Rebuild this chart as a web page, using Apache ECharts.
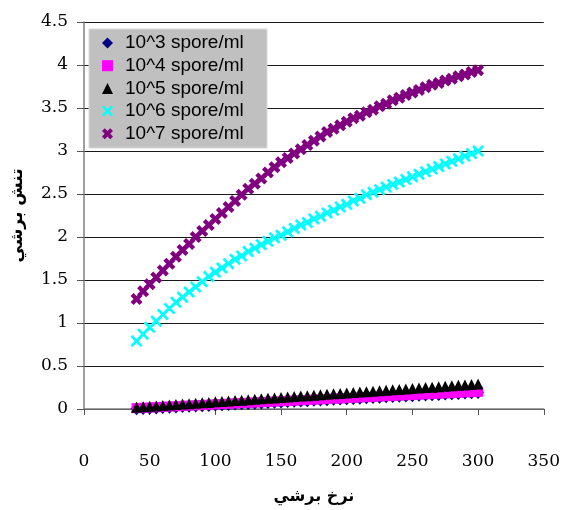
<!DOCTYPE html>
<html>
<head>
<meta charset="utf-8">
<script src="https://cdn.jsdelivr.net/npm/echarts@6/dist/echarts.min.js"></script>
<style>html,body{margin:0;padding:0;background:#fff}#c{width:563px;height:510px}</style>
</head>
<body>
<div id="c"></div>
<script>
var shearRate = [40,45,50,55,60,65,70,75,80,85,90,95,100,105,110,115,120,125,130,135,140,145,150,155,160,165,170,175,180,185,190,195,200,205,210,215,220,225,230,235,240,245,250,255,260,265,270,275,280,285,290,295,300];
var s1e3 = [0.002,0.006,0.009,0.013,0.017,0.020,0.024,0.028,0.031,0.035,0.039,0.042,0.046,0.050,0.053,0.057,0.060,0.064,0.068,0.071,0.075,0.079,0.082,0.086,0.090,0.093,0.097,0.101,0.104,0.108,0.112,0.115,0.119,0.122,0.126,0.130,0.133,0.137,0.141,0.144,0.148,0.152,0.155,0.159,0.163,0.166,0.170,0.174,0.177,0.181,0.185,0.188,0.192];
var s1e4 = [0.010,0.014,0.017,0.021,0.025,0.028,0.032,0.036,0.039,0.043,0.047,0.050,0.054,0.058,0.061,0.065,0.068,0.072,0.076,0.079,0.083,0.087,0.090,0.094,0.098,0.101,0.105,0.109,0.112,0.116,0.120,0.123,0.127,0.130,0.134,0.138,0.141,0.145,0.149,0.152,0.156,0.160,0.163,0.167,0.171,0.174,0.178,0.182,0.185,0.189,0.193,0.196,0.200];
var s1e5 = [0.020,0.025,0.031,0.036,0.041,0.046,0.051,0.057,0.062,0.067,0.072,0.077,0.083,0.088,0.093,0.098,0.103,0.109,0.114,0.119,0.124,0.129,0.135,0.140,0.145,0.150,0.155,0.161,0.166,0.171,0.176,0.181,0.187,0.192,0.197,0.202,0.207,0.213,0.218,0.223,0.228,0.233,0.239,0.244,0.249,0.254,0.259,0.265,0.270,0.275,0.280,0.285,0.290];
var s1e6 = [0.79,0.87,0.95,1.02,1.10,1.17,1.24,1.30,1.36,1.42,1.48,1.54,1.59,1.64,1.69,1.74,1.78,1.83,1.87,1.91,1.95,1.99,2.02,2.06,2.10,2.14,2.17,2.21,2.24,2.28,2.31,2.35,2.38,2.42,2.45,2.49,2.52,2.55,2.58,2.61,2.64,2.67,2.70,2.73,2.76,2.79,2.82,2.85,2.88,2.91,2.94,2.97,3.00];
var s1e7 = [1.28,1.37,1.45,1.53,1.61,1.69,1.77,1.85,1.92,2.00,2.07,2.14,2.21,2.28,2.35,2.42,2.49,2.56,2.62,2.68,2.75,2.81,2.87,2.92,2.97,3.02,3.07,3.12,3.17,3.22,3.26,3.30,3.34,3.38,3.41,3.45,3.48,3.52,3.55,3.59,3.62,3.65,3.68,3.71,3.74,3.77,3.79,3.82,3.84,3.87,3.89,3.92,3.94];
var seriesNames = ['10^3 spore/ml','10^4 spore/ml','10^5 spore/ml','10^6 spore/ml','10^7 spore/ml'];
var xTitle = 'نرخ برشي';
var yTitle = 'تنش برشي';

function pairs(ys){ return shearRate.map(function(x,i){ return [x, ys[i]]; }); }

var crossThin = 'path://M0,1.6 L1.6,0 L5,3.4 L8.4,0 L10,1.6 L6.6,5 L10,8.4 L8.4,10 L5,6.6 L1.6,10 L0,8.4 L3.4,5 Z';
var crossBold = 'path://M0,2.5 L2.5,0 L5,2.5 L7.5,0 L10,2.5 L7.5,5 L10,7.5 L7.5,10 L5,7.5 L2.5,10 L0,7.5 L2.5,5 Z';

var styles = [
  {color:'#000080', symbol:'diamond', size:[12,13], data:s1e3},
  {color:'#ff00ff', symbol:'rect', size:10, data:s1e4},
  {color:'#000000', symbol:'triangle', size:11, data:s1e5},
  {color:'#00ffff', symbol:crossThin, size:12, data:s1e6},
  {color:'#800080', symbol:crossBold, size:12, data:s1e7}
];

var chart = echarts.init(document.getElementById('c'), null, {renderer:'canvas'});
chart.setOption({
  animation:false,
  backgroundColor:'#ffffff',
  grid:{left:84, right:18, top:22, bottom:92},
  graphic:[{type:'rect', z:3, shape:{x:89, y:29, width:178, height:119}, style:{fill:'#c0c0c0', stroke:'#d8d8d8', lineWidth:1}}],
  legend:{
    z:4, orient:'vertical', left:89, top:29,
    padding:[4.5,10,4.5,13], itemGap:3.7, itemWidth:11, itemHeight:11,
    textStyle:{fontFamily:'Liberation Sans', fontSize:19, color:'#000', lineHeight:19, padding:[0,0,0,7]},
    data:seriesNames.map(function(n,i){ return {name:n, icon:styles[i].symbol}; })
  },
  xAxis:{
    type:'value', min:0, max:350, interval:50,
    name:xTitle, nameLocation:'middle', nameGap:80,
    nameTextStyle:{fontFamily:'DejaVu Sans', fontWeight:'bold', fontSize:16, color:'#000'},
    axisLine:{onZero:false, lineStyle:{color:'#808080', width:1.5}},
    axisTick:{show:true, inside:false, length:6, lineStyle:{color:'#555'}},
    axisLabel:{fontFamily:'DejaVu Serif', fontSize:17, color:'#000', margin:44},
    splitLine:{show:false}
  },
  yAxis:{
    type:'value', min:0, max:4.5, interval:0.5,
    name:yTitle, nameLocation:'middle', nameRotate:90, nameGap:58,
    nameTextStyle:{fontFamily:'DejaVu Sans', fontWeight:'bold', fontSize:17, color:'#000'},
    axisLine:{show:true, lineStyle:{color:'#808080', width:1.5}},
    axisTick:{show:true, inside:false, length:7, lineStyle:{color:'#555'}},
    axisLabel:{fontFamily:'DejaVu Serif', fontSize:17, color:'#000', margin:16, padding:[0,0,6,0],
      formatter:function(v){ return String(v); }},
    splitLine:{show:true, lineStyle:{color:'#1a1a1a', width:1}}
  },
  series:styles.map(function(s,i){
    return {
      name:seriesNames[i], type:'scatter', symbol:s.symbol, symbolSize:s.size,
      itemStyle:{color:s.color, opacity:1}, data:pairs(s.data), z:2+i
    };
  })
});
</script>
</body>
</html>
